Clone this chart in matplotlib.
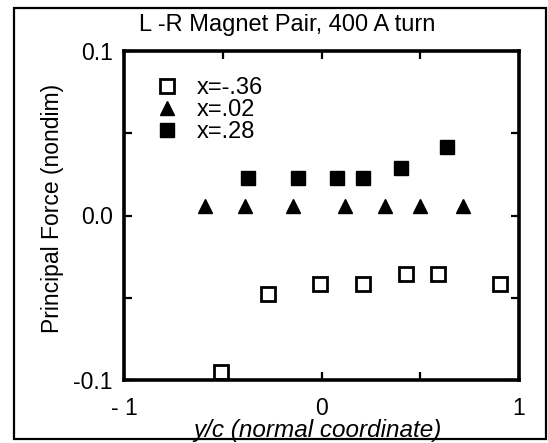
import matplotlib
matplotlib.use("Agg")
import matplotlib.pyplot as plt
from matplotlib.lines import Line2D
from matplotlib.patches import Rectangle

plt.rcParams['font.family'] = ['Liberation Sans', 'DejaVu Sans']

# Principal force vs. normal coordinate for three streamwise stations
y_open = [-0.510, -0.269, -0.008, 0.212, 0.428, 0.591, 0.904]
f_open = [-0.095, -0.048, -0.0415, -0.0415, -0.0355, -0.0355, -0.0415]

y_tri = [-0.588, -0.387, -0.143, 0.119, 0.322, 0.499, 0.718]
f_tri = [0.0058, 0.0058, 0.0058, 0.0058, 0.0058, 0.0058, 0.0058]

y_fill = [-0.374, -0.117, 0.077, 0.212, 0.403, 0.634]
f_fill = [0.0225, 0.0225, 0.0225, 0.0225, 0.0287, 0.0415]

series_labels = ['x=-.36', 'x=.02', 'x=.28']
xtick_vals = [-1, 0, 1]
xtick_text = ['- 1', '0', '1']
ytick_vals = [-0.1, 0.0, 0.1]
ytick_text = ['-0.1', '0.0', '0.1']

W, H = 548, 443
fig = plt.figure(figsize=(W / 100, H / 100), dpi=100)
ax = fig.add_axes([124 / W, 1 - 380 / H, 395 / W, 329 / H])

ax.plot(y_open, f_open, linestyle='none', marker='s', markersize=10,
        markerfacecolor='white', markeredgecolor='black', markeredgewidth=2.0)
ax.plot(y_tri, f_tri, linestyle='none', marker='^', markersize=10.5,
        color='black')
ax.plot(y_fill, f_fill, linestyle='none', marker='s', markersize=10.5,
        color='black')

ax.set_xlim(-1, 1)
ax.set_ylim(-0.1, 0.1)
ax.set_xticks(xtick_vals)
ax.set_xticklabels(xtick_text)
ax.set_xticks([-0.5, 0.5], minor=True)
ax.set_yticks(ytick_vals)
ax.set_yticklabels(ytick_text)
ax.set_yticks([-0.05, 0.05], minor=True)

for which in ('major', 'minor'):
    ax.tick_params(axis='both', which=which, direction='in', length=6,
                   width=1.6, top=True, right=True, labelsize=16.5)
ax.tick_params(axis='x', which='major', pad=12)
ax.tick_params(axis='y', which='major', pad=8)
for s in ax.spines.values():
    s.set_linewidth(2.6)

# axis titles placed in figure pixels
fig.text(318 / W, 1 - 437 / H, 'y/c (normal coordinate)', fontsize=17.5,
         style='italic', ha='center', va='baseline', zorder=5)
fig.text(53 / W, 1 - 208 / H, 'Principal Force (nondim)', fontsize=16.5,
         rotation=90, ha='center', va='center')

fig.text(287 / W, 1 - 25 / H, 'L -R Magnet Pair, 400 A turn', fontsize=17,
         ha='center', va='center')

handles = [
    Line2D([], [], linestyle='none', marker='s', markersize=9.5,
           markerfacecolor='white', markeredgecolor='black', markeredgewidth=2.0),
    Line2D([], [], linestyle='none', marker='^', markersize=10.5, color='black'),
    Line2D([], [], linestyle='none', marker='s', markersize=10.5, color='black'),
]
ax.legend(handles, series_labels, loc='upper left',
          bbox_to_anchor=(31 / 395, 1 - 26 / 329), frameon=False,
          fontsize=17, handlelength=1.0, handletextpad=0.75,
          labelspacing=0.0, borderpad=0, borderaxespad=0)

# outer frame around the whole figure
fig.patches.append(Rectangle((14 / W, 1 - 439 / H), 532 / W, 431 / H,
                             transform=fig.transFigure, fill=False,
                             edgecolor='black', linewidth=1.6, zorder=0))

fig.savefig('out.png', dpi=100)
